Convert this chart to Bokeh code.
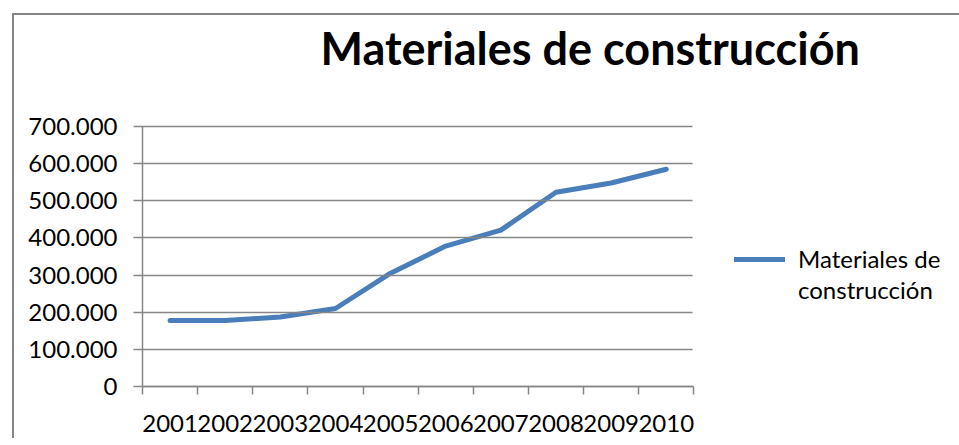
from bokeh.plotting import figure
from bokeh.models import (Range1d, LinearAxis, FixedTicker,
                          Legend, LegendItem, Title)
from bokeh.embed import file_html
from bokeh.resources import INLINE

# ---- data ----
years = ["2001", "2002", "2003", "2004", "2005", "2006", "2007", "2008", "2009", "2010"]
values = [178000, 178000, 187000, 210000, 305000, 378000, 421000, 523000, 548000, 585000]
legend_line1 = "Materiales de"
legend_line2 = "construcción"
title_text = "Materiales de construcción"
y_ticks = [0, 100000, 200000, 300000, 400000, 500000, 600000, 700000]
y_tick_labels = ["0", "100.000", "200.000", "300.000", "400.000", "500.000", "600.000", "700.000"]

FONT = "Lato"
GRAY = "#868686"
BLUE = "#4A7EBB"

# layout geometry (pixels)
FIG_W, FIG_H = 947, 425
BORDER_L = 128
CAT_PX = 55                       # width of one category slot
n = len(years)
PLOT_PX = n * CAT_PX              # width of the drawn plot area
FRAME_W = FIG_W - 2 - BORDER_L    # frame runs to the right edge (legend lives there)

centres = [i + 0.5 for i in range(n)]
bounds = [float(i) for i in range(n + 1)]

p = figure(width=FIG_W, height=FIG_H, title=None,
           x_range=Range1d(0, n * FRAME_W / PLOT_PX), y_range=Range1d(0, 700000),
           x_axis_type=None, y_axis_type=None,
           output_backend="svg", toolbar_location=None,
           min_border_left=BORDER_L, min_border_right=0,
           min_border_top=111, min_border_bottom=54,
           margin=(13, 0, 0, 12),
           styles={"border-top": "2px solid #868686", "border-left": "2px solid #868686"})
p.outline_line_color = None
p.background_fill_color = "white"
p.border_fill_color = "white"
p.xgrid.visible = False
p.ygrid.visible = False

# spacer between frame and title, then the title itself (outermost)
p.add_layout(Title(text=" ", text_font=FONT, text_font_size="10px", standoff=34), "above")
p.add_layout(Title(text=title_text, text_font=FONT, text_font_style="bold",
                   text_font_size="45px", text_color="black", align="left",
                   offset=178, standoff=7), "above")

# y axis; its inward ticks form the horizontal gridlines over the plot area
yax = LinearAxis(ticker=FixedTicker(ticks=y_ticks),
                 major_label_overrides=dict(zip(y_ticks, y_tick_labels)))
yax.axis_line_color = GRAY
yax.axis_line_width = 1.5
yax.major_tick_line_color = GRAY
yax.major_tick_line_width = 1.5
yax.major_tick_out = 9
yax.major_tick_in = PLOT_PX
yax.minor_tick_line_color = None
yax.major_label_standoff = 16
yax.major_label_text_font = FONT
yax.major_label_text_font_size = "24px"
yax.major_label_text_color = "black"
p.add_layout(yax, "left")

# x axis: labels at category centres, tick marks at category boundaries
xax = LinearAxis(ticker=FixedTicker(ticks=centres, minor_ticks=bounds),
                 major_label_overrides=dict(zip(centres, years)),
                 bounds=(0, n))
xax.axis_line_color = GRAY
xax.axis_line_width = 1.5
xax.major_tick_line_color = None
xax.major_tick_out = 0
xax.major_tick_in = 0
xax.minor_tick_line_color = GRAY
xax.minor_tick_line_width = 1.5
xax.minor_tick_out = 8
xax.minor_tick_in = 0
xax.major_label_standoff = 20
xax.major_label_text_font = FONT
xax.major_label_text_font_size = "24px"
xax.major_label_text_color = "black"
p.add_layout(xax, "below")

# series
r = p.line(x=centres, y=values, line_color=BLUE, line_width=5,
           line_cap="round", line_join="round")
# invisible companion so the legend label wraps onto a second line
r2 = p.line(x=[], y=[], line_alpha=0)

legend = Legend(items=[LegendItem(label=legend_line1, renderers=[r]),
                       LegendItem(label=legend_line2, renderers=[r2])],
                location=(592, 82), orientation="vertical", spacing=2,
                glyph_width=51, glyph_height=20, label_standoff=13,
                padding=0, margin=0, border_line_color=None,
                background_fill_alpha=0,
                label_text_font=FONT, label_text_font_size="24px",
                label_text_color="black")
p.add_layout(legend, "center")

open("out.html", "w").write(file_html(p, INLINE))
